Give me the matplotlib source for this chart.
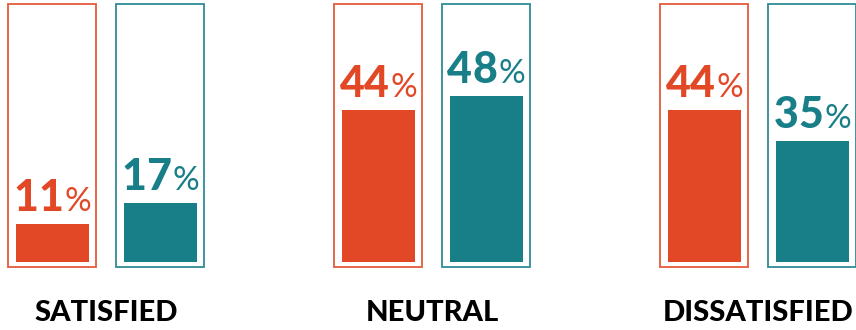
import matplotlib
matplotlib.use('Agg')
import matplotlib.pyplot as plt
from matplotlib.patches import Rectangle

# Daten
kategorien = ['SATISFIED', 'NEUTRAL', 'DISSATISFIED']
serie_a = [11, 44, 44]
serie_b = [17, 48, 35]

farbe_a = '#E24826'
farbe_b = '#187E88'

plt.rcParams['font.family'] = ['Lato', 'DejaVu Sans']

fig = plt.figure(figsize=(8.56, 3.30), dpi=100)
ax = fig.add_axes([0, 0, 1, 1])
ax.set_xlim(-0.326, 2.30)
ax.set_ylim(-19.65, 75.72)
ax.axis('off')

versatz = 0.1656
breite_fill = 0.224
breite_box = 0.27
box_unten = -1.45
box_oben = 74.6

renderer = fig.canvas.get_renderer()
inv = ax.transData.inverted()


def prozent_label(x, y, wert, farbe):
    # Ziffern einzeln, Prozentzeichen kleiner und dünner
    teile = []
    for z in f'{wert}':
        teile.append((ax.text(x, y, z, fontsize=31, fontweight='black', color=farbe,
                              ha='left', va='baseline'), 0))
    teile[-1] = (teile[-1][0], 1)
    teile.append((ax.text(x, y, '%', fontsize=24, fontweight='normal', color=farbe,
                          ha='left', va='baseline'), 0))
    breiten = [t.get_window_extent(renderer).width for t, _ in teile]
    gesamt = sum(breiten) + sum(g for _, g in teile[:-1])
    px = ax.transData.transform((x, y))[0] - gesamt / 2
    for (t, g), b in zip(teile, breiten):
        t.set_x(inv.transform((px, 0))[0])
        px += b + g


for i, kat in enumerate(kategorien):
    for dx, wert, farbe in [(-versatz, serie_a[i], farbe_a), (versatz, serie_b[i], farbe_b)]:
        xc = i + dx
        ax.add_patch(Rectangle((xc - breite_box / 2, box_unten), breite_box, box_oben - box_unten,
                               fill=False, edgecolor=farbe, linewidth=1.3, alpha=0.9))
        ax.bar(xc, wert, width=breite_fill, color=farbe, linewidth=0)
        prozent_label(xc, wert + 3.8, wert, farbe)
    ax.text(i, -14.8, kat, fontsize=21, fontweight='black', color='black',
            ha='center', va='center')

fig.savefig('out.png', dpi=100)
